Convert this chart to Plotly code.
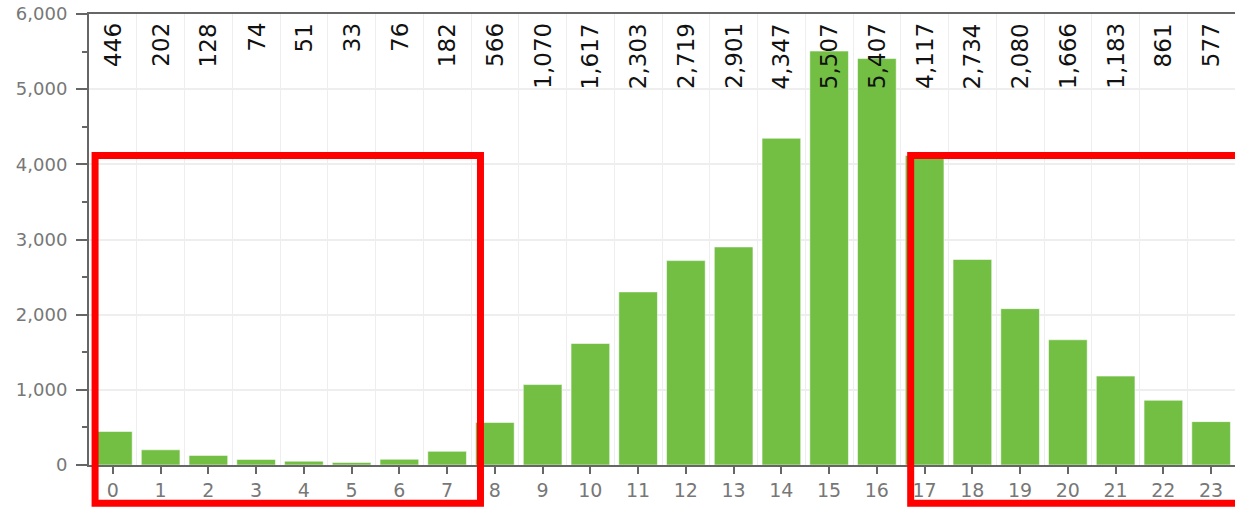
import plotly.graph_objects as go

hours = list(range(24))
counts = [446, 202, 128, 74, 51, 33, 76, 182, 566, 1070, 1617, 2303, 2719, 2901,
          4347, 5507, 5407, 4117, 2734, 2080, 1666, 1183, 861, 577]
tick_labels = [str(h) for h in hours]

BAR = "#72bf44"
FONT = "DejaVu Sans, Verdana, sans-serif"

fig = go.Figure()
fig.add_trace(go.Bar(
    x=hours, y=counts,
    marker=dict(color=BAR, line=dict(color="rgba(255,255,255,0.55)", width=1)),
    width=0.81,
    hoverinfo="x+y",
))

for h, c in zip(hours, counts):
    fig.add_annotation(
        x=h, y=1, xref="x", yref="paper",
        text=f"{c:,}", textangle=-90, showarrow=False,
        xanchor="center", yanchor="top", yshift=-7,
        font=dict(family=FONT, size=23, color="#111"),
    )

# highlight boxes
red = dict(color="#ff0000", width=7)
fig.add_shape(type="rect", xref="paper", yref="paper",
              x0=0.0053, x1=0.3416, y0=-0.085, y1=0.6863, line=red, layer="above")
fig.add_shape(type="rect", xref="paper", yref="paper",
              x0=0.7170, x1=1.02, y0=-0.085, y1=0.6863, line=red, layer="above")

fig.update_layout(
    width=1235, height=507,
    margin=dict(l=89, r=0, t=14, b=42, autoexpand=False),
    plot_bgcolor="white", paper_bgcolor="white",
    showlegend=False,
    font=dict(family=FONT),
)
fig.update_xaxes(
    range=[-0.5, 23.5], tickmode="array", tickvals=hours, ticktext=tick_labels,
    showgrid=False, zeroline=False,
    showline=True, linecolor="#666", linewidth=2, mirror=True,
    ticks="outside", ticklen=7, tickwidth=2, tickcolor="#666",
    tickfont=dict(family=FONT, size=19, color="#777"),
    minor=dict(tick0=0.5, dtick=1, showgrid=True, gridcolor="#eeeeee", gridwidth=1, ticks=""),
)
fig.update_yaxes(
    range=[0, 6000], dtick=1000, tickformat=",d",
    showgrid=True, gridcolor="#eeeeee", gridwidth=1.5, zeroline=False,
    showline=True, linecolor="#666", linewidth=2,
    ticks="outside", ticklen=11, tickwidth=2, tickcolor="#666",
    ticklabelstandoff=5,
    tickfont=dict(family=FONT, size=18, color="#777"),
    minor=dict(dtick=500, ticks="outside", ticklen=5, tickwidth=2, tickcolor="#666", showgrid=False),
)

fig.write_html(
    "out.html",
    config={"displayModeBar": False},
    post_script="document.body.style.margin='0';document.body.style.overflow='hidden';",
)
